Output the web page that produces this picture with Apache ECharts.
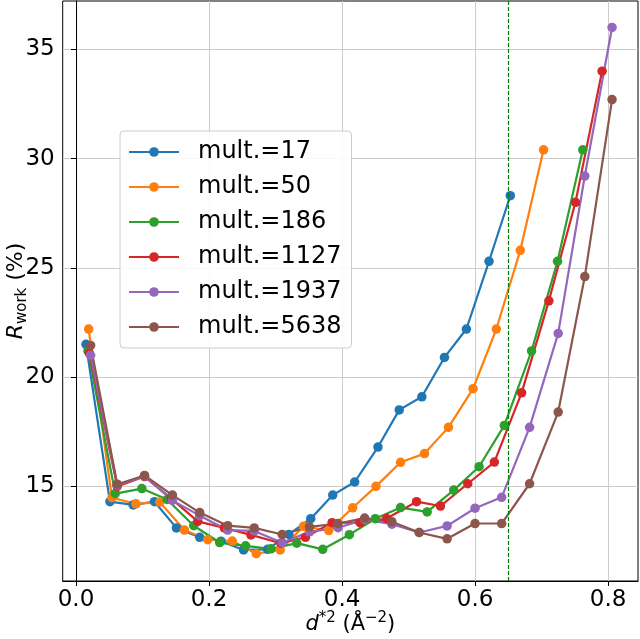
<!DOCTYPE html>
<html>
<head>
<meta charset="utf-8">
<script src="https://cdn.jsdelivr.net/npm/echarts@6/dist/echarts.min.js"></script>
<style>
html,body{margin:0;padding:0;background:#fff;}
#chart{width:640px;height:639px;}
</style>
</head>
<body>
<div id="chart"></div>
<script>
// ---- data ----
const seriesNames = ['mult.=17','mult.=50','mult.=186','mult.=1127','mult.=1937','mult.=5638'];

const x17 = [0.015,0.051,0.086,0.118,0.151,0.186,0.218,0.252,0.288,0.320,0.353,0.386,0.419,0.454,0.486,0.520,0.554,0.587,0.621,0.653];
const y17 = [21.5,14.3,14.15,14.3,13.1,12.67,12.49,12.09,12.12,12.8,13.52,14.6,15.2,16.8,18.5,19.1,20.9,22.2,25.3,28.3];

const x50 = [0.019,0.054,0.090,0.126,0.163,0.198,0.235,0.271,0.307,0.342,0.380,0.416,0.451,0.488,0.524,0.560,0.597,0.632,0.668,0.703];
const y50 = [22.2,14.48,14.2,14.28,13.0,12.56,12.5,11.92,12.09,13.17,12.98,14.02,15.0,16.1,16.5,17.7,19.47,22.2,25.8,30.4];

const x186 = [0.018,0.059,0.099,0.137,0.177,0.216,0.255,0.293,0.332,0.371,0.411,0.450,0.488,0.528,0.568,0.606,0.644,0.685,0.724,0.762];
const y186 = [21.2,14.67,14.9,14.4,13.2,12.43,12.28,12.14,12.4,12.12,12.79,13.52,14.03,13.83,14.83,15.9,17.79,21.2,25.3,30.4];

const x1127 = [0.020,0.062,0.103,0.143,0.183,0.223,0.263,0.308,0.345,0.385,0.427,0.467,0.512,0.548,0.589,0.629,0.670,0.711,0.751,0.791];
const y1127 = [21.1,15.0,15.45,14.45,13.4,13.1,12.78,12.4,12.67,13.34,13.34,13.53,14.3,14.1,15.12,16.11,19.28,23.49,28.0,34.0];

const x1937 = [0.022,0.062,0.103,0.145,0.186,0.228,0.268,0.310,0.351,0.394,0.434,0.475,0.516,0.558,0.600,0.640,0.682,0.725,0.765,0.806];
const y1937 = [21.0,15.05,15.47,14.36,13.66,13.0,12.96,12.42,12.92,13.11,13.49,13.27,12.89,13.19,14.0,14.5,17.7,22.0,29.2,36.0];

const x5638 = [0.022,0.062,0.103,0.145,0.186,0.228,0.268,0.310,0.351,0.394,0.434,0.475,0.516,0.558,0.600,0.640,0.682,0.725,0.765,0.806];
const y5638 = [21.45,15.1,15.5,14.6,13.8,13.2,13.1,12.8,13.15,13.3,13.55,13.38,12.89,12.6,13.3,13.3,15.12,18.4,24.6,32.7];

const cutoffX = 0.645;

const xTicks = [0.0,0.2,0.4,0.6,0.8];
const yTicks = [15,20,25,30,35];
// ---------------------------------------

const xs = [x17,x50,x186,x1127,x1937,x5638];
const ys = [y17,y50,y186,y1127,y1937,y5638];
const colors = ['#1f77b4','#ff7f0e','#2ca02c','#d62728','#9467bd','#8c564b'];
const FONT = 'DejaVu Sans';

const series = seriesNames.map((name,i)=>({
  name: name,
  type: 'line',
  data: xs[i].map((x,j)=>[x, ys[i][j]]),
  symbol: 'circle',
  symbolSize: 9.5,
  showSymbol: true,
  color: colors[i],
  lineStyle: {width: 2.2, color: colors[i]},
  itemStyle: {color: colors[i]},
  emphasis: {disabled: true},
  animation: false
}));
series[0].markLine = {
  silent: true,
  symbol: ['none','none'],
  label: {show: false},
  lineStyle: {type: [4,2], color: '#008000', width: 1.2},
  data: [{xAxis: cutoffX}],
  animation: false
};

const chart = echarts.init(document.getElementById('chart'), null, {renderer: 'canvas'});
chart.setOption({
  backgroundColor: '#ffffff',
  animation: false,
  textStyle: {fontFamily: FONT},
  grid: {left: 62.7, right: 2, top: 1, bottom: 58, show: true, borderColor: '#000', borderWidth: 1,
    containLabel: false, outerBoundsMode: 'none'},
  legend: {
    orient: 'vertical',
    left: 120, top: 131,
    padding: [8, 10, 8, 8],
    backgroundColor: 'rgba(255,255,255,0.85)',
    borderColor: '#cccccc', borderWidth: 1, borderRadius: 4,
    itemWidth: 50, itemHeight: 12, itemGap: 9,
    textStyle: {fontFamily: FONT, fontSize: 24, color: '#000', padding: [0,0,0,14], lineHeight: 26},
    data: seriesNames
  },
  xAxis: {
    type: 'value', min: -0.020, max: 0.845,
    axisLine: {show: true, lineStyle: {color: '#000', width: 1}},
    axisTick: {show: true, length: 5, lineStyle: {color: '#000'}, customValues: xTicks},
    axisLabel: {show: true, customValues: xTicks, fontFamily: FONT, fontSize: 23, color: '#000', margin: 8,
      formatter: v => v.toFixed(1)},
    splitLine: {show: true, lineStyle: {color: '#cccccc', width: 1}},
    name: '{i|d}{sup|*2} (Å{sup|−2})',
    nameLocation: 'middle', nameGap: 30, nameMoveOverlap: false,
    nameTextStyle: {fontFamily: FONT, fontSize: 21, color: '#000',
      rich: {
        i: {fontFamily: FONT, fontSize: 21, fontStyle: 'italic', color: '#000'},
        sup: {fontFamily: FONT, fontSize: 15, color: '#000', padding: [0,0,12,0]}
      }}
  },
  yAxis: {
    type: 'value', min: 10.67, max: 37.21,
    axisLine: {show: true, lineStyle: {color: '#000', width: 1}},
    axisTick: {show: true, length: 5, lineStyle: {color: '#000'}, customValues: yTicks},
    axisLabel: {show: true, customValues: yTicks, fontFamily: FONT, fontSize: 23, color: '#000', margin: 8,
      formatter: v => String(Math.round(v))},
    splitLine: {show: true, lineStyle: {color: '#cccccc', width: 1}},
    name: '{i|R}{sub|work} (%)',
    nameLocation: 'middle', nameGap: 33, nameRotate: 90, nameMoveOverlap: false,
    nameTextStyle: {fontFamily: FONT, fontSize: 22, color: '#000',
      rich: {
        i: {fontFamily: FONT, fontSize: 22, fontStyle: 'italic', color: '#000'},
        sub: {fontFamily: FONT, fontSize: 15, color: '#000', padding: [11,0,0,0]}
      }}
  },
  series: series
});
</script>
</body>
</html>
